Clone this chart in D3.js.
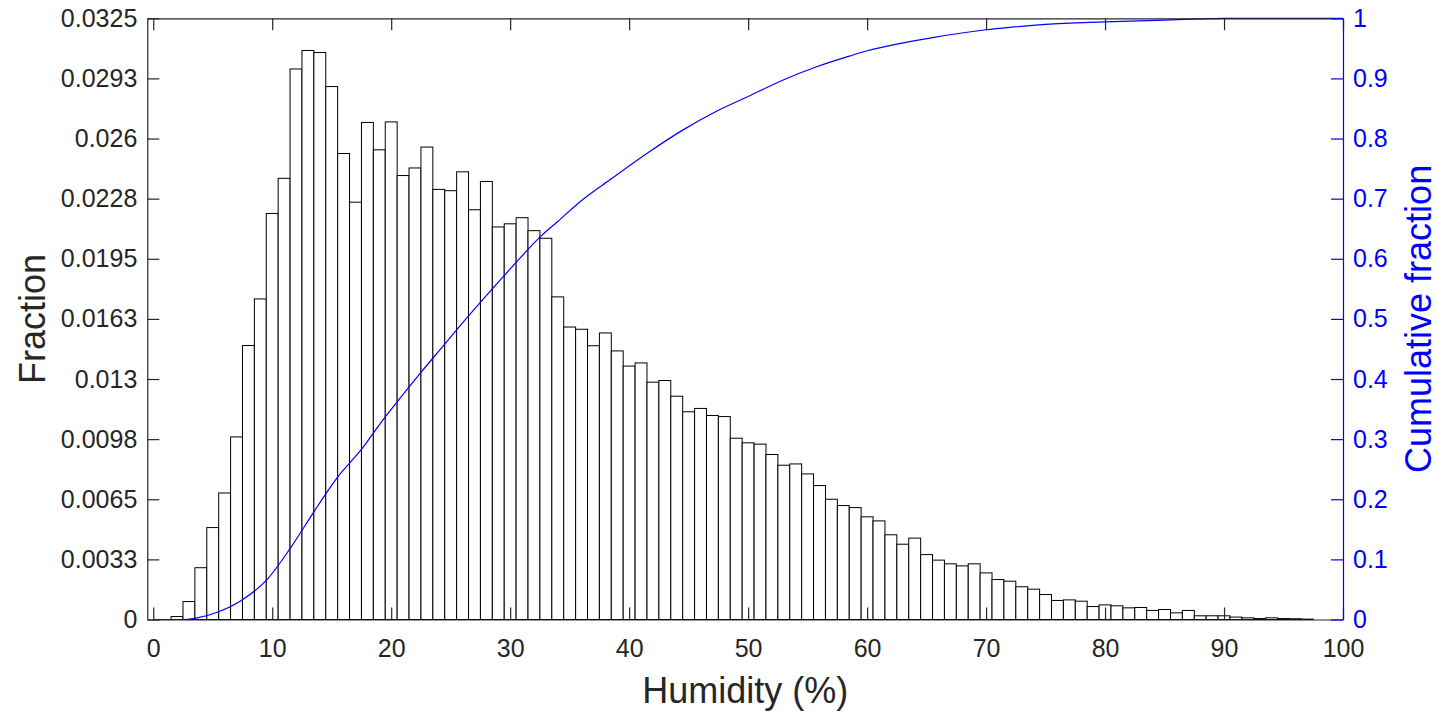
<!DOCTYPE html>
<html>
<head>
<meta charset="utf-8">
<script src="https://cdn.jsdelivr.net/npm/d3@7"></script>
<style>
  body { margin: 0; background: #fff; }
  svg { display: block; font-family: "Liberation Sans", Arial, sans-serif; }
</style>
</head>
<body>
<script>
// Histogram of humidity, bins of width 1 centred on whole numbers
const binCenters = d3.range(2, 98);
const fractions = [
  0.00016, 0.00097, 0.0028, 0.00497, 0.00684, 0.00987, 0.01481, 0.01733, 0.02195, 0.02385,
  0.02976, 0.03076, 0.03065, 0.02881, 0.02519, 0.02256, 0.02687, 0.02539, 0.0269, 0.024,
  0.02441, 0.02554, 0.02325, 0.02318, 0.0242, 0.02215, 0.02368, 0.02122, 0.02139, 0.02172,
  0.02102, 0.02061, 0.01744, 0.01581, 0.01569, 0.0148, 0.01549, 0.01452, 0.0137, 0.01387,
  0.01283, 0.01292, 0.01207, 0.01123, 0.01141, 0.01103, 0.01097, 0.0098, 0.00955, 0.00948,
  0.00892, 0.00834, 0.00841, 0.00787, 0.00724, 0.0065, 0.00616, 0.00605, 0.00555, 0.00533,
  0.00458, 0.00407, 0.0044, 0.00351, 0.00321, 0.00301, 0.0029, 0.00301, 0.00252, 0.00216,
  0.00207, 0.00177, 0.00164, 0.00135, 0.00103, 0.00106, 0.00099, 0.0007, 0.00079, 0.00074,
  0.00063, 0.00065, 0.00049, 0.00054, 0.00036, 0.00049, 0.0002, 0.0002, 0.0002, 0.00013,
  0.00009, 0.00005, 0.00009, 0.00005, 0.00004, 0.00002
];

// Cumulative fraction curve
const cdfX = [0, 2.5, 3.5, 5.5, 7.5, 9.5, 11.5, 13.5, 14.5, 15.5, 16.5, 17.5, 18.5, 19.5, 20.5,
  22.5, 24.5, 26.5, 28.5, 30.5, 32.5, 34, 36, 38.5, 41.7, 44.5, 47.3, 50, 52.9, 55.7, 58.5,
  60, 62.7, 65.5, 70, 72, 75, 80, 85, 88, 90, 95, 100];
const cdfY = [0, 0, 0.002, 0.013, 0.033, 0.065, 0.118, 0.179, 0.209, 0.237, 0.26, 0.283, 0.31, 0.337, 0.362,
  0.411, 0.458, 0.505, 0.55, 0.594, 0.636, 0.662, 0.697, 0.733, 0.778, 0.814, 0.845, 0.87, 0.897, 0.919, 0.937,
  0.946, 0.958, 0.968, 0.981, 0.985, 0.99, 0.994, 0.997, 0.999, 1, 1, 1];

// Tick values and labels
const xTicks = [0, 10, 20, 30, 40, 50, 60, 70, 80, 90, 100];
const leftTicks = [0, 0.00325, 0.0065, 0.00975, 0.013, 0.01625, 0.0195, 0.02275, 0.026, 0.02925, 0.0325];
const leftTickLabels = ["0", "0.0033", "0.0065", "0.0098", "0.013", "0.0163", "0.0195", "0.0228", "0.026", "0.0293", "0.0325"];
const rightTicks = [0, 0.1, 0.2, 0.3, 0.4, 0.5, 0.6, 0.7, 0.8, 0.9, 1];
const rightTickLabels = ["0", "0.1", "0.2", "0.3", "0.4", "0.5", "0.6", "0.7", "0.8", "0.9", "1"];

const W = 1439, H = 713;
const plot = { left: 147.3, right: 1343, top: 18.3, bottom: 619.5 };
const axisColor = "#262626";
const blue = "#0000ff";
const tickLen = 12;

const svg = d3.select("body").append("svg")
  .attr("width", W)
  .attr("height", H);

const x = d3.scaleLinear().domain([-0.5, 100]).range([plot.left, plot.right]);
const y = d3.scaleLinear().domain([0, 0.0325]).range([plot.bottom, plot.top]);
const y2 = d3.scaleLinear().domain([0, 1]).range([plot.bottom, plot.top]);

const bins = binCenters.map((c, i) => ({ c: c, v: fractions[i] }));

// Bars
svg.append("g")
  .selectAll("rect")
  .data(bins)
  .join("rect")
  .attr("x", d => x(d.c - 0.5))
  .attr("y", d => y(d.v))
  .attr("width", d => x(d.c + 0.5) - x(d.c - 0.5))
  .attr("height", d => y(0) - y(d.v))
  .attr("fill", "#fff")
  .attr("stroke", "#000")
  .attr("stroke-width", 1);

// Cumulative line
const line = d3.line()
  .x(d => x(d[0]))
  .y(d => y2(d[1]))
  .curve(d3.curveMonotoneX);

svg.append("path")
  .datum(cdfX.map((v, i) => [v, cdfY[i]]))
  .attr("d", line)
  .attr("fill", "none")
  .attr("stroke", blue)
  .attr("stroke-width", 1.2);

// Bottom axis
const bottomAxis = svg.append("g")
  .attr("transform", `translate(0,${plot.bottom})`)
  .call(d3.axisBottom(x).tickValues(xTicks).tickSize(-tickLen).tickPadding(tickLen + 8).tickFormat(d3.format("d")));

// Top axis (ticks only)
const topAxis = svg.append("g")
  .attr("transform", `translate(0,${plot.top})`)
  .call(d3.axisTop(x).tickValues(xTicks).tickSize(-tickLen).tickFormat(""));

// Left axis
const leftAxis = svg.append("g")
  .attr("transform", `translate(${plot.left},0)`)
  .call(d3.axisLeft(y).tickValues(leftTicks).tickSize(-tickLen).tickPadding(10)
    .tickFormat((d, i) => leftTickLabels[i]));

// Right axis (blue)
const rightAxis = svg.append("g")
  .attr("transform", `translate(${plot.right},0)`)
  .call(d3.axisRight(y2).tickValues(rightTicks).tickSize(-tickLen).tickPadding(10)
    .tickFormat((d, i) => rightTickLabels[i]));

[bottomAxis, topAxis, leftAxis].forEach(a => {
  a.select(".domain").attr("stroke", axisColor).attr("stroke-width", 1.2);
  a.selectAll(".tick line").attr("stroke", axisColor).attr("stroke-width", 1.2);
  a.selectAll(".tick text").attr("fill", axisColor).style("font-size", "25px");
});
rightAxis.select(".domain").attr("stroke", blue).attr("stroke-width", 1.2);
rightAxis.selectAll(".tick line").attr("stroke", blue).attr("stroke-width", 1.2);
rightAxis.selectAll(".tick text").attr("fill", blue).style("font-size", "25px");

// Remove outer tick stubs
[bottomAxis, topAxis, leftAxis, rightAxis].forEach(a => {
  a.select(".domain").attr("d", function () {
    return d3.select(this).attr("d").replace(/M([-\d.]+),[-\d.]+V([-\d.]+)H/, "M$1,$2H")
      .replace(/H([-\d.]+)V[-\d.]+$/, "H$1")
      .replace(/M[-\d.]+,([-\d.]+)H([-\d.]+)V/, "M$2,$1V")
      .replace(/V([-\d.]+)H[-\d.]+$/, "V$1");
  });
});

// Axis titles
svg.append("text")
  .attr("x", (plot.left + plot.right) / 2)
  .attr("y", 703)
  .attr("text-anchor", "middle")
  .attr("fill", axisColor)
  .style("font-size", "36px")
  .text("Humidity (%)");

svg.append("text")
  .attr("transform", `translate(45,${(plot.top + plot.bottom) / 2}) rotate(-90)`)
  .attr("text-anchor", "middle")
  .attr("fill", axisColor)
  .style("font-size", "36px")
  .text("Fraction");

svg.append("text")
  .attr("transform", `translate(1431,${(plot.top + plot.bottom) / 2}) rotate(-90)`)
  .attr("text-anchor", "middle")
  .attr("fill", blue)
  .style("font-size", "36px")
  .text("Cumulative fraction");
</script>
</body>
</html>
